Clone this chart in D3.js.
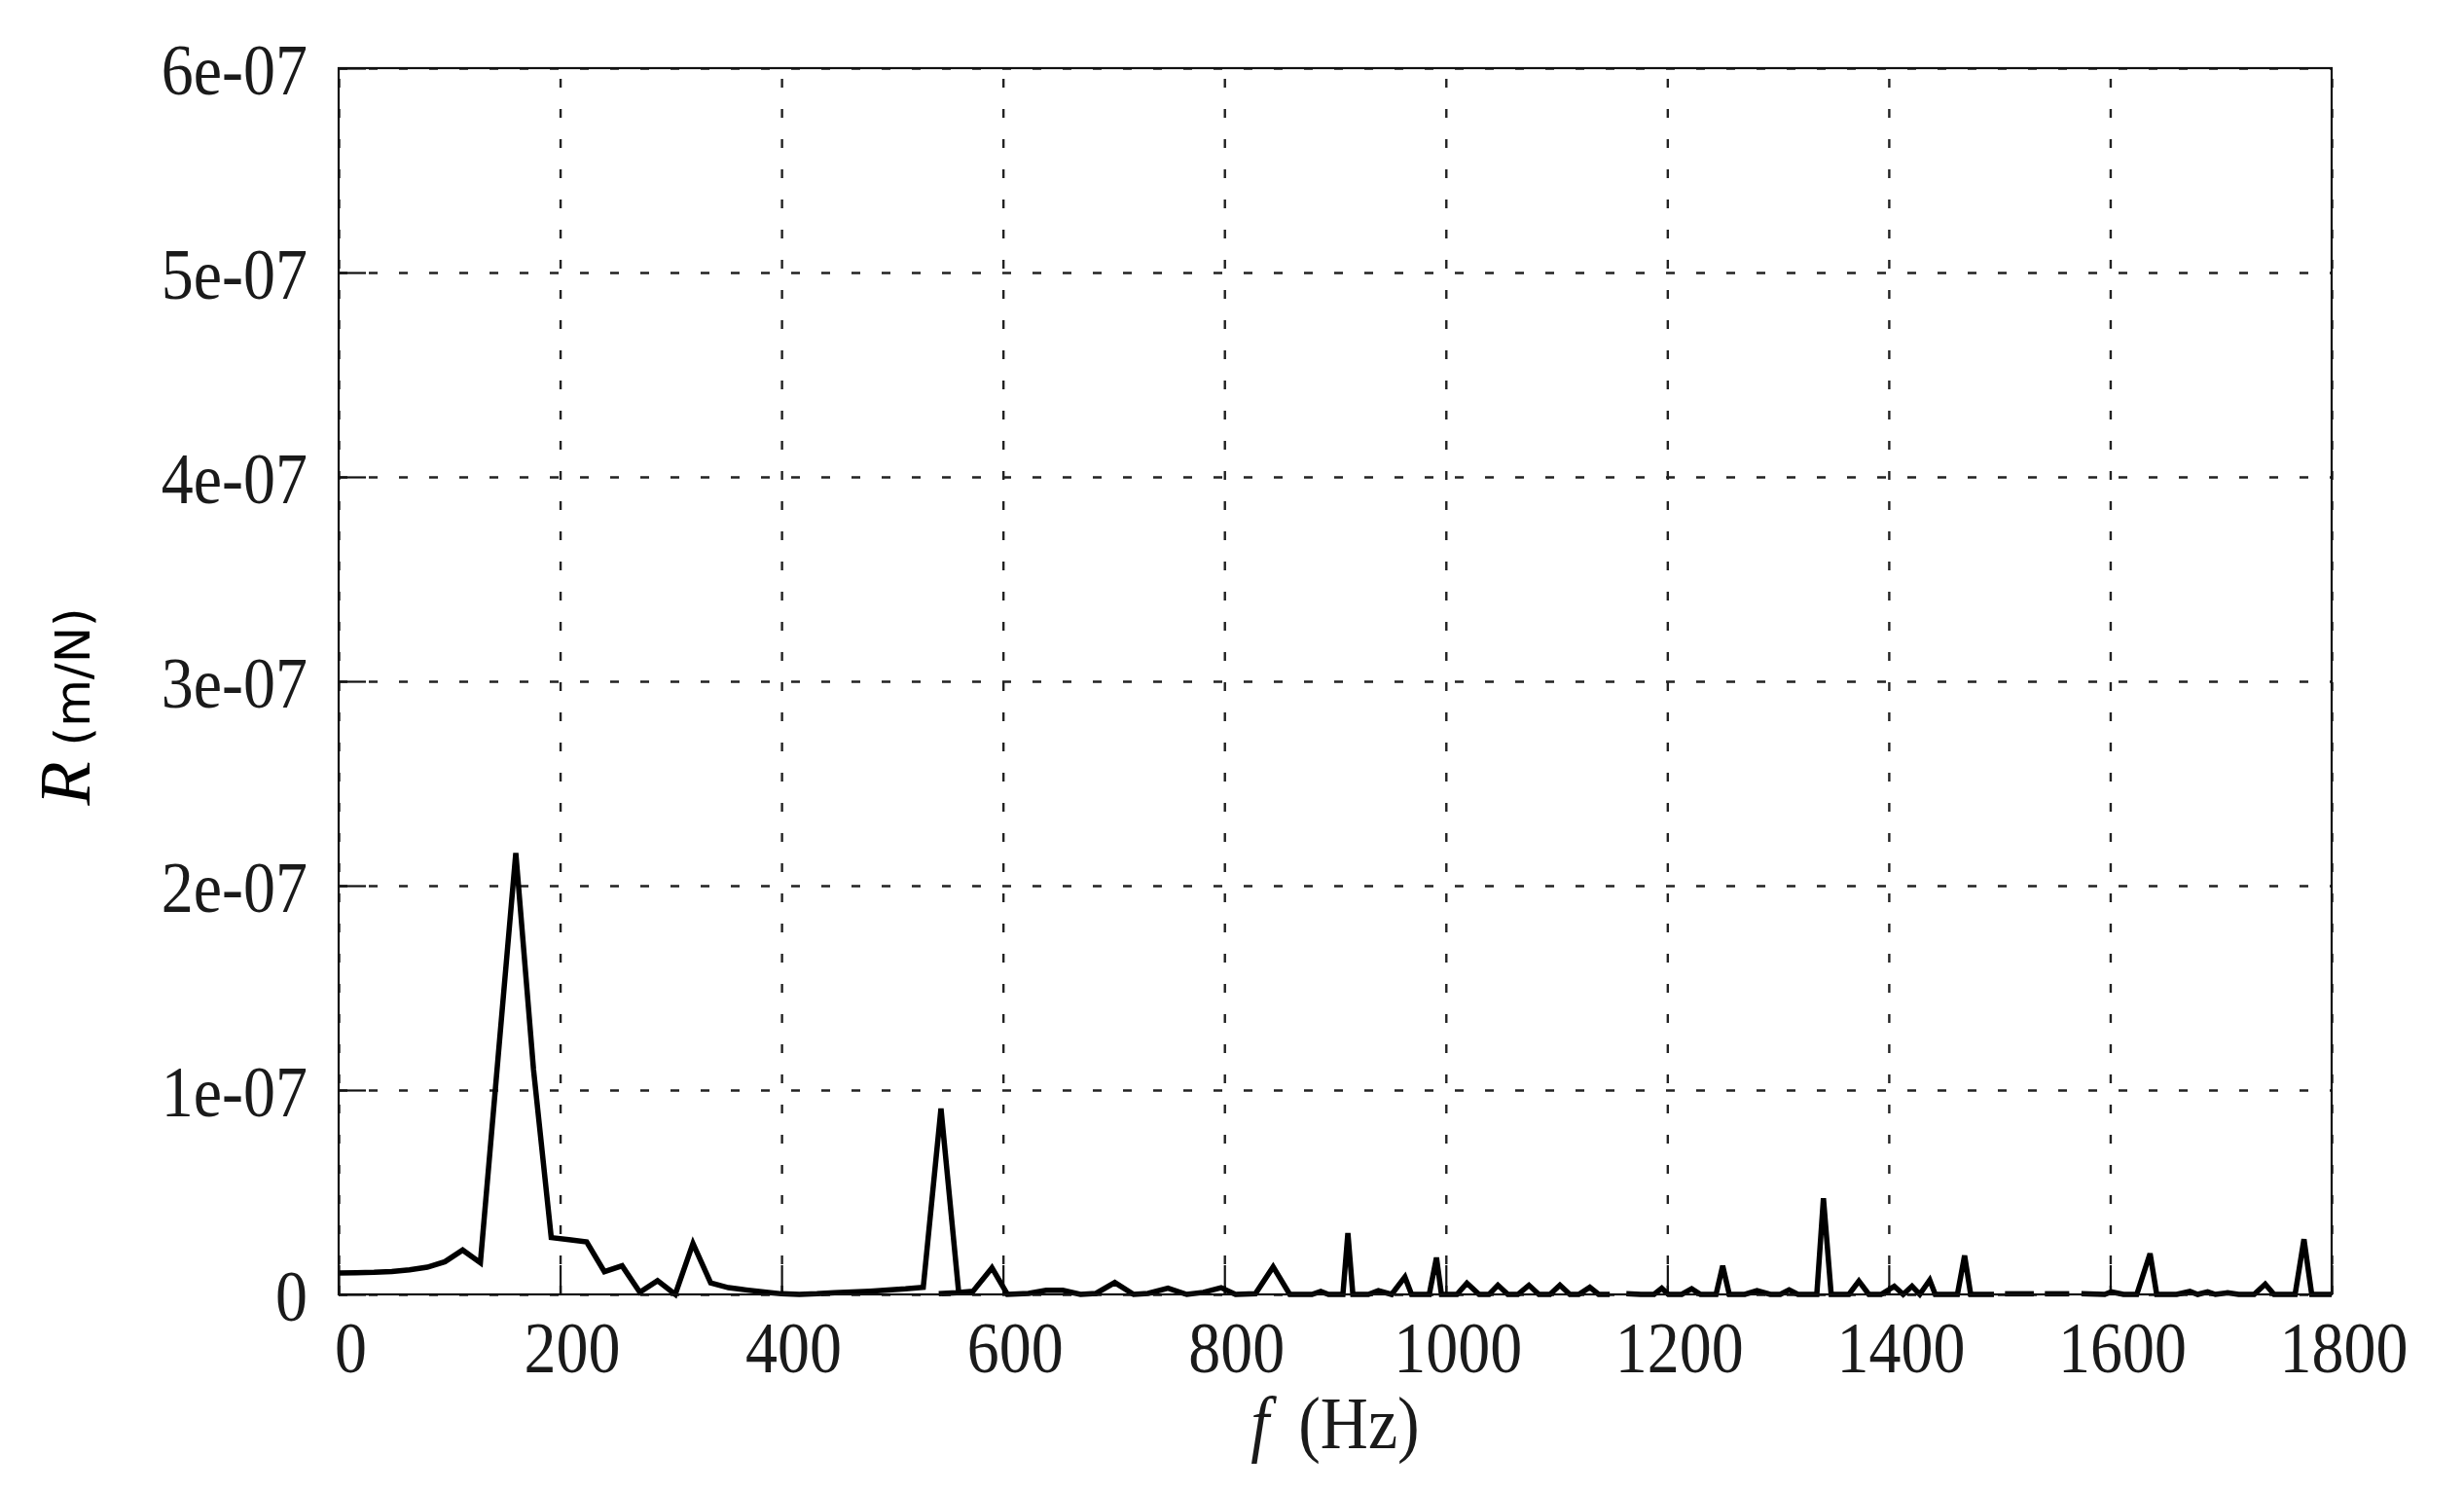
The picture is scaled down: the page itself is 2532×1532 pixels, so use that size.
<!DOCTYPE html>
<html>
<head>
<meta charset="utf-8">
<script src="https://cdn.jsdelivr.net/npm/d3@7"></script>
<style>
  body { margin: 0; background: #fff; }
  svg { display: block; }
</style>
</head>
<body>
<svg id="chart" width="2532" height="1532"></svg>
<script>
// receptance R (m/N) vs frequency f (Hz) in pieces
// the curve is drawn in separate pieces, gaps between them are in the original
var freqA = [0, 16, 32, 48, 64, 80, 96, 112, 128, 144, 160, 176, 192, 208, 224, 240, 256, 272, 288, 304,
             320, 336, 352, 368, 384, 400, 416, 432, 448, 464, 480, 496, 512, 528, 544, 560];
var rA = [1.05e-8, 1.06e-8, 1.08e-8, 1.12e-8, 1.20e-8, 1.33e-8, 1.60e-8, 2.17e-8, 1.55e-8, 1.16e-7,
          2.16e-7, 1.10e-7, 2.78e-8, 2.68e-8, 2.57e-8, 1.11e-8, 1.40e-8, 1.1e-9, 6.7e-9, 0,
          2.49e-8, 5.6e-9, 3.3e-9, 2.2e-9, 1.2e-9, 3e-10, 0, 3e-10, 8e-10, 1.2e-9,
          1.6e-9, 2.1e-9, 2.7e-9, 3.5e-9, 9.1e-8, 1.0e-9];

var freqB = [542, 558, 573, 590, 604, 623, 639, 654, 670, 684, 701, 718, 731, 749, 766, 781, 797, 810,
             828, 844, 859, 879, 887, 894, 907, 911.5, 916, 930, 939, 951, 963, 969, 985, 991.5, 996,
             1010, 1019, 1030, 1039, 1047, 1056, 1065, 1075, 1084, 1094, 1103, 1112, 1120, 1130, 1138, 1148];
var rB = [3e-10, 8e-10, 1.6e-9, 1.3e-8, 0, 5e-10, 2.0e-9, 2.0e-9, 0, 5e-10, 5.8e-9, 0, 5e-10, 3.0e-9,
          0, 1.0e-9, 3.3e-9, 0, 3e-10, 1.35e-8, 0, 0, 1.5e-9, 0, 0, 3.0e-8, 0, 0, 1.8e-9, 0,
          8.5e-9, 0, 0, 1.8e-8, 0, 0, 5.5e-9, 0, 0, 4.5e-9, 0, 0, 4.5e-9, 0, 0, 4.5e-9, 0, 0,
          3.5e-9, 0, 0];

var freqC = [1163, 1176, 1188, 1195, 1201, 1213, 1222, 1230, 1244, 1250, 1256, 1270, 1281, 1293, 1302,
             1310, 1318, 1335, 1341, 1348, 1364, 1373, 1382, 1393, 1405, 1413, 1421, 1428, 1437, 1442,
             1455, 1462, 1468.5, 1474, 1495];
var rC = [3e-10, 0, 0, 3.0e-9, 0, 0, 2.8e-9, 0, 0, 1.4e-8, 0, 0, 1.8e-9, 0, 0,
          2.2e-9, 0, 0, 4.7e-8, 0, 0, 6.5e-9, 0, 0, 4.0e-9, 0, 4.0e-9, 0, 7.0e-9, 0,
          0, 0, 1.9e-8, 0, 0];

var freqD = [1505, 1531];
var rD = [3e-10, 3e-10];

var freqE = [1541, 1563];
var rE = [3e-10, 3e-10];

var freqF = [1574, 1595, 1601, 1612, 1624, 1636, 1642, 1660, 1672, 1679, 1688, 1695, 1706, 1716,
             1730, 1740, 1748, 1767, 1775, 1782, 1800];
var rF = [3e-10, 0, 1.3e-9, 0, 0, 2.0e-8, 0, 0, 1.5e-9, 0, 1.3e-9, 0, 8e-10, 0,
          0, 5.0e-9, 0, 0, 2.7e-8, 0, 0];

var xTicks = [0, 200, 400, 600, 800, 1000, 1200, 1400, 1600, 1800];
var xTickLabels = ["0", "200", "400", "600", "800", "1000", "1200", "1400", "1600", "1800"];
var yTicks = [0, 1e-7, 2e-7, 3e-7, 4e-7, 5e-7, 6e-7];
var yTickLabels = ["0", "1e-07", "2e-07", "3e-07", "4e-07", "5e-07", "6e-07"];

var margin = {top: 70, right: 136, bottom: 202, left: 348},
    W = 2532, H = 1532,
    width = W - margin.left - margin.right,
    height = H - margin.top - margin.bottom;

var svg = d3.select("#chart");
var g = svg.append("g").attr("transform", "translate(" + margin.left + "," + margin.top + ")");

var x = d3.scaleLinear().domain([0, 1800]).range([0, width]);
var y = d3.scaleLinear().domain([0, 6e-7]).range([height, 0]);

// dashed grid
var grid = g.append("g").attr("class", "grid");
grid.append("g")
    .attr("transform", "translate(0," + height + ")")
    .call(d3.axisBottom(x).tickValues(xTicks).tickSize(-height).tickFormat(""));
grid.append("g")
    .call(d3.axisLeft(y).tickValues(yTicks).tickSize(-width).tickFormat(""));
grid.selectAll(".domain").remove();
grid.selectAll("line")
    .attr("stroke", "#222")
    .attr("stroke-width", 2.4)
    .attr("stroke-dasharray", "9,22");

// axes with inward ticks
var xAxis = g.append("g")
    .attr("transform", "translate(0," + height + ")")
    .call(d3.axisBottom(x).tickValues(xTicks).tickSize(-30)
      .tickFormat(function(d, i) { return xTickLabels[i]; }));
var yAxis = g.append("g")
    .call(d3.axisLeft(y).tickValues(yTicks).tickSize(-28)
      .tickFormat(function(d, i) { return yTickLabels[i]; }));

[xAxis, yAxis].forEach(function(a) {
  a.select(".domain").remove();
  a.selectAll("line").attr("stroke", "#111").attr("stroke-width", 2.2);
  a.selectAll("text")
    .attr("fill", "#1a1a1a")
    .style("font-family", "'Liberation Serif', 'DejaVu Serif', serif")
    .style("font-size", "66px");
});
// the original type is a little taller than it is wide
xAxis.selectAll("text").attr("y", 0).attr("dy", 0).attr("x", 0)
    .attr("transform", "translate(12,80) scale(1,1.12)");
yAxis.selectAll("text").attr("x", 0).attr("dy", 0)
    .attr("transform", "translate(-32,26) scale(1,1.12)");

// data line, one path per piece
var pieces = [[freqA, rA], [freqB, rB], [freqC, rC], [freqD, rD], [freqE, rE], [freqF, rF]];
var line = d3.line()
    .x(function(d) { return x(d[0]); })
    .y(function(d) { return y(d[1]); });

g.selectAll(".piece")
  .data(pieces.map(function(p) { return p[0].map(function(f, i) { return [f, p[1][i]]; }); }))
  .enter().append("path")
    .attr("class", "piece")
    .attr("d", line)
    .attr("fill", "none")
    .attr("stroke", "#000")
    .attr("stroke-width", 5.5);

// frame
g.append("rect")
    .attr("width", width)
    .attr("height", height)
    .attr("fill", "none")
    .attr("stroke", "#111")
    .attr("stroke-width", 2.2);

// axis titles
var xt = svg.append("text")
    .attr("transform", "translate(" + (margin.left + width / 2) + ",1488) scale(1,1.12)")
    .attr("text-anchor", "middle")
    .attr("fill", "#1a1a1a")
    .style("font-family", "'Liberation Serif', 'DejaVu Serif', serif")
    .style("font-size", "68px");
xt.append("tspan").style("font-style", "italic").text("f");
xt.append("tspan").attr("dx", 30).text("(Hz)");

var yt = svg.append("text")
    .attr("transform", "translate(92,726) rotate(-90)")
    .attr("text-anchor", "middle")
    .attr("fill", "#000");
yt.append("tspan")
    .style("font-family", "'Liberation Serif', 'DejaVu Serif', serif")
    .style("font-style", "italic")
    .style("font-size", "74px")
    .text("R");
yt.append("tspan")
    .attr("dx", 16)
    .style("font-family", "'DejaVu Sans', sans-serif")
    .style("font-size", "50px")
    .text("(m/N)");
</script>
</body>
</html>
